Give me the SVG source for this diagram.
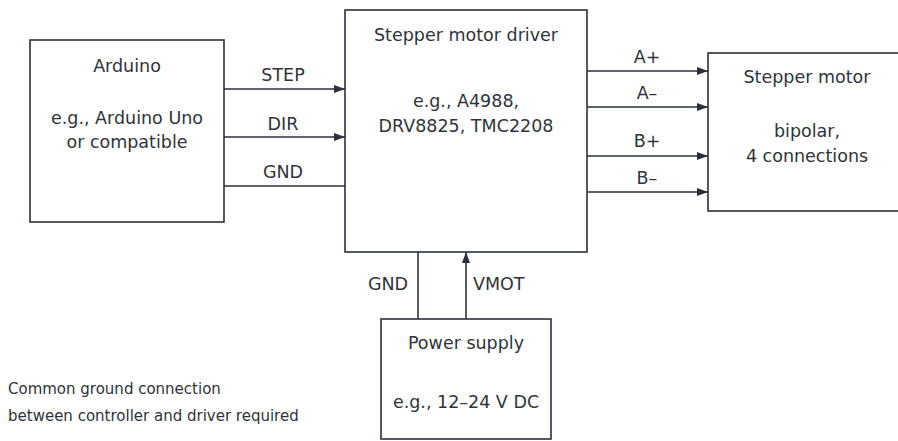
<svg xmlns="http://www.w3.org/2000/svg" width="898" height="441" viewBox="0 0 898 441">
<style>
.box{fill:#fff;stroke:#2a303b;stroke-width:1.6}
.ln{fill:none;stroke:#2a303b;stroke-width:1.6}
text{font-family:"DejaVu Sans","Liberation Sans",sans-serif;font-size:17.5px;fill:#2f333a;text-anchor:middle}
.note{font-size:15px;text-anchor:start}
</style>
<defs>
<marker id="arr" markerWidth="11" markerHeight="8" refX="11" refY="4" orient="auto" markerUnits="userSpaceOnUse">
<path d="M0,0 L11,4 L0,8 Z" fill="#2a303b"/>
</marker>
</defs>
<rect width="898" height="441" fill="#fff"/>
<g id="connectors">
<line class="ln" x1="224" y1="89" x2="345" y2="89" marker-end="url(#arr)"/>
<line class="ln" x1="224" y1="137" x2="345" y2="137" marker-end="url(#arr)"/>
<line class="ln" x1="224" y1="186" x2="345" y2="186"/>
<line class="ln" x1="587" y1="71" x2="708" y2="71" marker-end="url(#arr)"/>
<line class="ln" x1="587" y1="107" x2="708" y2="107" marker-end="url(#arr)"/>
<line class="ln" x1="587" y1="156" x2="708" y2="156" marker-end="url(#arr)"/>
<line class="ln" x1="587" y1="192" x2="708" y2="192" marker-end="url(#arr)"/>
<line class="ln" x1="418" y1="319" x2="418" y2="252"/>
<line class="ln" x1="466" y1="319" x2="466" y2="252" marker-end="url(#arr)"/>
<text x="283" y="81">STEP</text>
<text x="283" y="130">DIR</text>
<text x="283" y="178">GND</text>
<text x="647" y="63">A+</text>
<text x="647" y="99">A–</text>
<text x="647" y="147">B+</text>
<text x="647" y="184">B–</text>
<text x="388" y="290">GND</text>
<text x="473" y="290" style="text-anchor:start">VMOT</text>
</g>
<g id="arduino">
<rect class="box" x="30" y="40" width="194" height="182"/>
<text x="127" y="72">Arduino</text>
<text x="127" y="124">e.g., Arduino Uno</text>
<text x="127" y="148">or compatible</text>
</g>
<g id="driver">
<rect class="box" x="345" y="10" width="242" height="242"/>
<text x="466" y="41">Stepper motor driver</text>
<text x="466" y="107">e.g., A4988,</text>
<text x="466" y="132">DRV8825, TMC2208</text>
</g>
<g id="motor">
<rect class="box" x="708" y="53" width="198" height="158"/>
<text x="807" y="83">Stepper motor</text>
<text x="807" y="137">bipolar,</text>
<text x="807" y="162">4 connections</text>
</g>
<g id="power">
<rect class="box" x="381" y="319" width="170" height="120"/>
<text x="466" y="349">Power supply</text>
<text x="466" y="408">e.g., 12–24 V DC</text>
</g>
<g id="note">
<text class="note" x="8" y="394">Common ground connection</text>
<text class="note" x="8" y="421">between controller and driver required</text>
</g>
</svg>
